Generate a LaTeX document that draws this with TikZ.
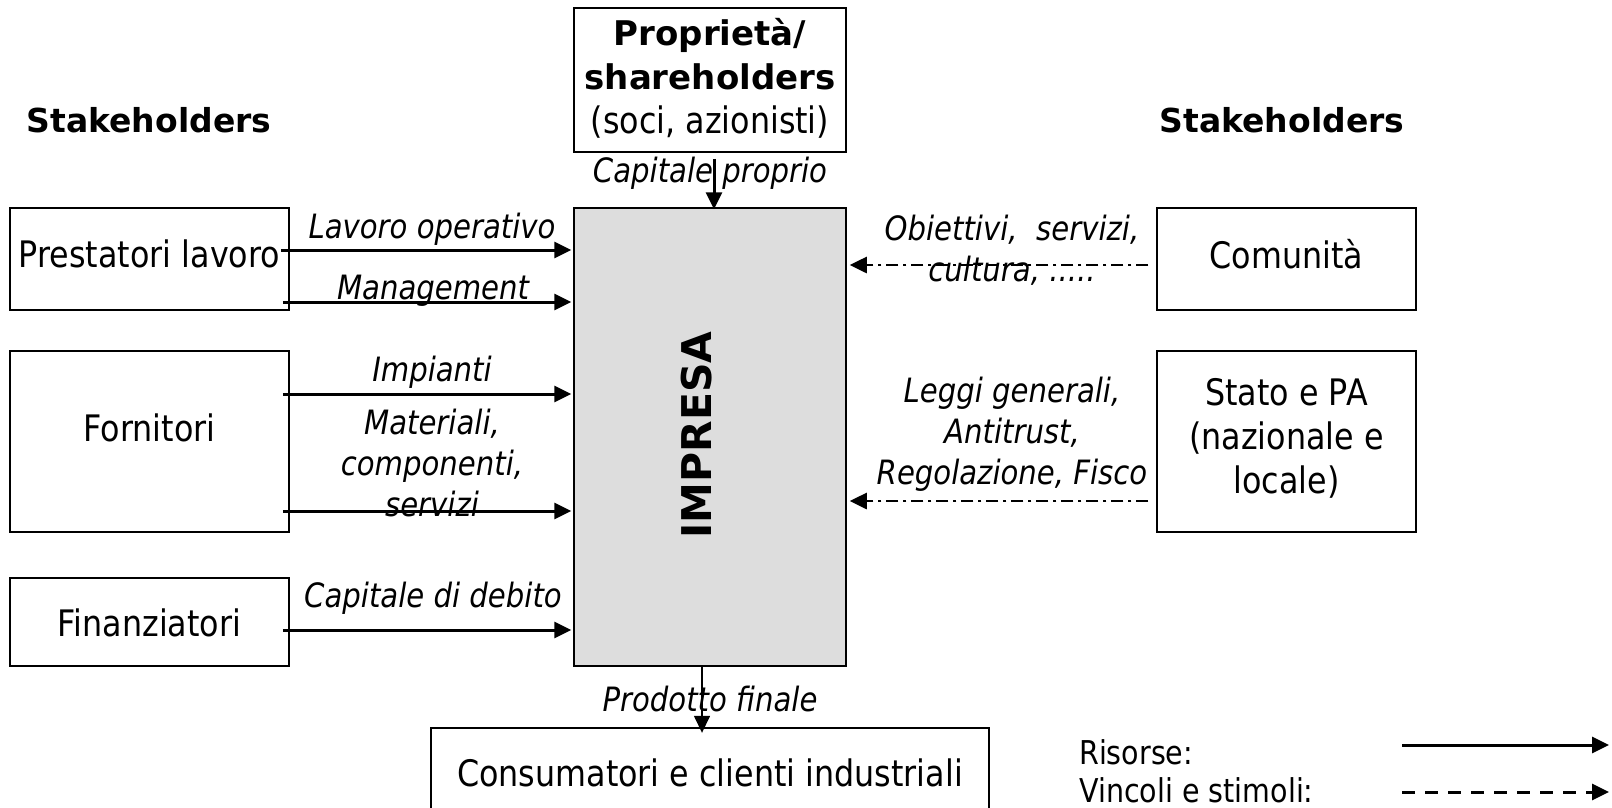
\documentclass[tikz,border=0pt]{standalone}
\usepackage{fontspec}
\setmainfont{DejaVu Sans}
\newfontfamily\tah{DejaVu Sans}[FakeStretch=0.87]
\usetikzlibrary{arrows.meta}
\definecolor{impgray}{RGB}{221,221,221}
\begin{document}
\begin{tikzpicture}[x=1pt,y=-1pt,
  txt/.style={font=\tah\fontsize{36.5}{44}\selectfont, align=center, inner sep=0pt},
  box/.style={draw, line width=1.5pt, inner sep=0pt},
  lab/.style={font=\tah\fontsize{33.5}{41}\selectfont\itshape, align=center, inner sep=0pt},
  bold/.style={font=\fontsize{33}{44}\selectfont\bfseries, align=center, inner sep=0pt},
  tip/.style={-{Triangle[length=17pt,width=16pt]}},
  res/.style={tip, line width=3pt},
  vinc/.style={tip, line width=2.6pt, dash pattern=on 12pt off 5pt on 3pt off 5pt},
  vincleg/.style={tip, line width=3pt, dash pattern=on 13pt off 10pt}]
\useasboundingbox (0,0) rectangle (1612,807);
% boxes
\node[box, minimum width=272pt, minimum height=144pt] (prop) at (710,80) {};
\node[txt] (proptxt) at (710,78) {\fontsize{34}{44}\selectfont\normalfont\bfseries Proprietà/\\\fontsize{34}{44}\selectfont\normalfont\bfseries shareholders\\(soci, azionisti)};
\node[box, fill=impgray, minimum width=272pt, minimum height=458pt] (imp) at (710,437) {};
\node[bold, rotate=90, font=\fontsize{41}{44}\selectfont\bfseries] (imptxt) at (697,435) {IMPRESA};
\node[box, minimum width=279pt, minimum height=102pt] (prest) at (149.5,259) {};
\node[txt] (presttxt) at (149.5,254) {Prestatori lavoro};
\node[box, minimum width=279pt, minimum height=181pt] (forn) at (149.5,441.5) {};
\node[txt] (forntxt) at (149.5,428) {Fornitori};
\node[box, minimum width=279pt, minimum height=88pt] (fin) at (149.5,622) {};
\node[txt] (fintxt) at (149.5,623) {Finanziatori};
\node[box, minimum width=259pt, minimum height=102pt] (com) at (1286.5,259) {};
\node[txt] (comtxt) at (1286.5,254) {Comunità};
\node[box, minimum width=259pt, minimum height=181pt] (stato) at (1286.5,441.5) {};
\node[txt] (statotxt) at (1286.5,438) {Stato e PA\\(nazionale e\\locale)};
\node[minimum width=558pt, minimum height=80pt, inner sep=0pt] (cons) at (710,768) {};
\node[txt] (constxt) at (710,773) {Consumatori e clienti industriali};
\draw[line width=1.5pt] (cons.south west) -- (cons.north west) -- (cons.north east) -- (cons.south east);
% headings
\node[bold] (sh1) at (149,120) {Stakeholders};
\node[bold] (sh2) at (1282,120) {Stakeholders};
% labels
\node[lab] (l1) at (432,229) {Lavoro operativo};
\node[lab] (l2) at (433,291) {Management};
\node[lab] (l3) at (432,372) {Impianti};
\node[lab] (l4) at (432,463) {Materiali,\\componenti,\\servizi};
\node[lab] (l5) at (433,598) {Capitale di debito};
\node[lab] (l6) at (710,173) {Capitale proprio};
\node[lab] (l7) at (710,699) {Prodotto finale};
\node[lab] (l8) at (1012,250) {Obiettivi,\ \ servizi,\\cultura, .....};
\node[lab] (l9) at (1012,434) {Leggi generali,\\Antitrust,\\Regolazione, Fisco};
% arrows
\coordinate (a1s) at ([xshift=-9pt]prest.east |- 0,250);
\coordinate (a1e) at ([xshift=-2pt]imp.west |- 0,250);
\draw[res] (a1s) -- (a1e);
\coordinate (a2s) at ([xshift=-7pt]prest.east |- 0,302);
\coordinate (a2e) at ([xshift=-2pt]imp.west |- 0,302);
\draw[res] (a2s) -- (a2e);
\coordinate (a3s) at ([xshift=-7pt]forn.east |- 0,394);
\coordinate (a3e) at ([xshift=-2pt]imp.west |- 0,394);
\draw[res] (a3s) -- (a3e);
\coordinate (a4s) at ([xshift=-7pt]forn.east |- 0,511);
\coordinate (a4e) at ([xshift=-2pt]imp.west |- 0,511);
\draw[res] (a4s) -- (a4e);
\coordinate (a5s) at ([xshift=-7pt]fin.east |- 0,630);
\coordinate (a5e) at ([xshift=-2pt]imp.west |- 0,630);
\draw[res] (a5s) -- (a5e);
\coordinate (a6s) at ([yshift=-6pt]prop.south -| 714,0);
\coordinate (a6e) at ([yshift=-2pt]imp.north -| 714,0);
\draw[res] (a6s) -- (a6e);
\coordinate (a7s) at (imp.south -| 702,0);
\coordinate (a7e) at ([yshift=-5pt]cons.north -| 702,0);
\draw[tip, line width=1.5pt] (a7s) -- (a7e);
\coordinate (a8s) at ([xshift=-8pt]com.west |- 0,265);
\coordinate (a8e) at ([xshift=3pt]imp.east |- 0,265);
\draw[vinc] (a8s) -- (a8e);
\coordinate (a9s) at ([xshift=-8pt]stato.west |- 0,501);
\coordinate (a9e) at ([xshift=3pt]imp.east |- 0,501);
\draw[vinc] (a9s) -- (a9e);
% legend
\node[txt, anchor=west, font=\tah\fontsize{32.8}{40}\selectfont] (lg1) at (1079,752) {Risorse:};
\node[txt, anchor=west, font=\tah\fontsize{32.8}{40}\selectfont] (lg2) at (1079,790) {Vincoli e stimoli:};
\coordinate (g1s) at (1402,745);
\coordinate (g1e) at (1609,745);
\draw[res] (g1s) -- (g1e);
\coordinate (g2s) at (1402,792);
\coordinate (g2e) at (1609,792);
\draw[vincleg] (g2s) -- (g2e);
\end{tikzpicture}
\end{document}
